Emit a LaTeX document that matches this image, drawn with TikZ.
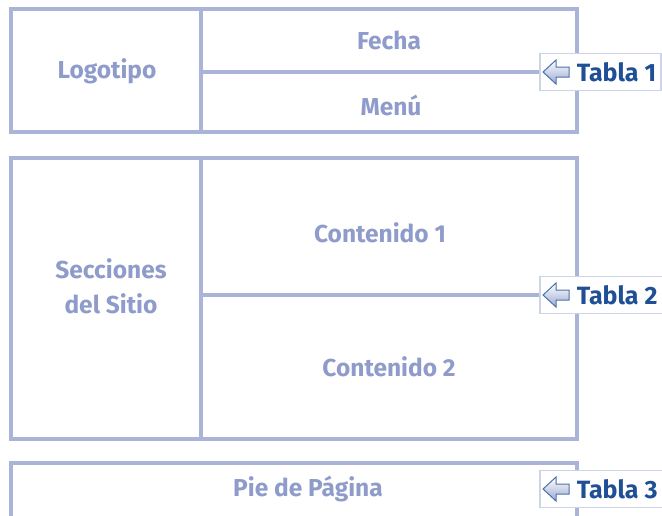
\documentclass[tikz,border=0pt]{standalone}
\usepackage{fontspec}
\setmainfont{Fira Sans}
\usetikzlibrary{calc,positioning}
\definecolor{marco}{HTML}{AAB4D9}
\definecolor{rotulo}{HTML}{8E9BCB}
\definecolor{azultabla}{HTML}{1F4F95}
\definecolor{bordetabla}{HTML}{CDD4EA}
\tikzset{
    marco/.style={draw=marco, line width=3.5pt},
    celda/.style={text=rotulo, font=\bfseries\fontsize{24.5}{35}\selectfont, align=center},
    etiqueta/.style={draw=bordetabla, fill=white, line width=1.5pt, text=azultabla,
      font=\bfseries\fontsize{25}{28}\selectfont, minimum height=37pt,
      inner xsep=5pt, anchor=west},
    flecha/.style={draw=azultabla!80, line width=1pt, shading angle=45,
      top color=white, bottom color=marco!90!azultabla},
  }
\newcommand{\flechita}[1]{% icono de flecha a la izquierda
  \path[flecha] ($(#1.west)+(4,0)$) -- ++(13,-12) -- ++(0,7) -- ++(13,0) -- ++(0,10)
    -- ++(-13,0) -- ++(0,7) -- cycle;}
\begin{document}
\begin{tikzpicture}[x=1pt,y=-1pt]
          %marco de la pagina
          \useasboundingbox (0,0) rectangle (662,515);
          %tabla 1
          \coordinate (A) at (11,9);
          \coordinate (B) at (577,132);
          \coordinate (D) at (201,9);
          \coordinate (E) at (201,132);
          \coordinate (M) at (201,72);
          \coordinate (N) at (577,72);
          \draw[marco] (A) rectangle (B);
          \draw[marco] (D) -- (E);
          \draw[marco] (M) -- (N);
          \node[celda] (logo) at ($(A)!.5!(E)+(1,1)$) {Logotipo};
          \node[celda] (fecha) at ($(D)!.5!(N)$) {Fecha};
          \node[celda] (menu) at ($(M)!.5!(B)+(2,3)$) {Menú};
          \node[etiqueta] (t1) at (539,72) {\hspace{32pt}Tabla 1};
          \flechita{t1}
          %tabla 2
          \coordinate (A2) at (11,158);
          \coordinate (B2) at (577,439);
          \coordinate (D2) at (201,158);
          \coordinate (E2) at (201,439);
          \coordinate (M2) at (201,295);
          \coordinate (N2) at (577,295);
          \draw[marco] (A2) rectangle (B2);
          \draw[marco] (D2) -- (E2);
          \draw[marco] (M2) -- (N2);
          \node[celda] (secciones) at ($(A2)!.5!(E2)+(5,-12)$) {Secciones\\del Sitio};
          \node[celda] (cont1) at ($(D2)!.5!(N2)+(-9,6)$) {Contenido 1};
          \node[celda] (cont2) at ($(M2)!.5!(B2)$) {Contenido 2};
          \node[etiqueta] (t2) at (539,295) {\hspace{32pt}Tabla 2};
          \flechita{t2}
          %tabla 3
          \coordinate (A3) at (11,463);
          \coordinate (B3) at (577,463);
          \draw[marco] (11,530) -- (A3) -- (B3) -- (577,530);
          \node[celda] (pie) at ($(A3)!.5!(B3)+(14,26)$) {Pie de Página};
          \node[etiqueta] (t3) at (539,489) {\hspace{32pt}Tabla 3};
          \flechita{t3}
\end{tikzpicture}
\end{document}
